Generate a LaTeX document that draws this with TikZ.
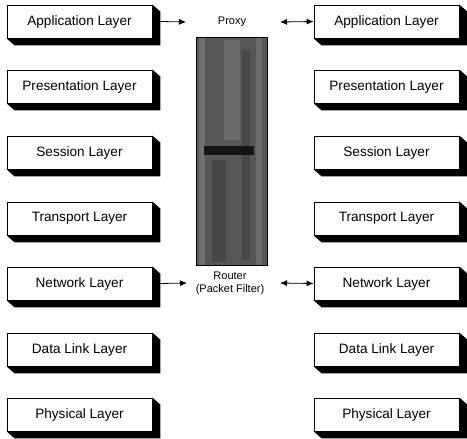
\documentclass[tikz,border=0pt]{standalone}
\usepackage{fontspec}
\setmainfont{Liberation Sans}
\usetikzlibrary{arrows.meta,calc}
\begin{document}
\begin{tikzpicture}[x=1pt,y=-1pt,
  layer/.style={draw=black,line width=0.8pt,fill=white,minimum width=145pt,minimum height=33pt,inner sep=0pt,font=\fontsize{13.6}{15}\selectfont},
  lbl/.style={inner sep=0pt,font=\fontsize{11}{13}\selectfont,align=center},
  conn/.style={line width=0.8pt,-{Latex[length=7pt,width=6pt]}},
  dconn/.style={line width=0.8pt,{Latex[length=7pt,width=6pt]}-{Latex[length=7pt,width=6pt]}}]
\useasboundingbox (0,0) rectangle (467,439);
\newcommand\slab[1]{\fill[black] (#1.north east) -- ++(8,7) -- ($(#1.south east)+(8,7)$) -- ($(#1.south west)+(8,7)$) -- (#1.south west) -- (#1.south east) -- cycle;}
% left stack
\node[layer] (LA) at (79.5,21.5) {Application Layer};
\node[layer] (LP) at (79.5,86.5) {Presentation Layer};
\node[layer] (LS) at (79.5,152.5) {Session Layer};
\node[layer] (LT) at (79.5,218.5) {Transport Layer};
\node[layer] (LN) at (79.5,283.5) {Network Layer};
\node[layer] (LD) at (79.5,349.5) {Data Link Layer};
\node[layer] (LY) at (79.5,414.5) {Physical Layer};
% right stack
\node[layer] (RA) at (386.5,21.5) {Application Layer};
\node[layer] (RP) at (386.5,86.5) {Presentation Layer};
\node[layer] (RS) at (386.5,152.5) {Session Layer};
\node[layer] (RT) at (386.5,218.5) {Transport Layer};
\node[layer] (RN) at (386.5,283.5) {Network Layer};
\node[layer] (RD) at (386.5,349.5) {Data Link Layer};
\node[layer] (RY) at (386.5,414.5) {Physical Layer};
\foreach \n in {LA,LP,LS,LT,LN,LD,LY,RA,RP,RS,RT,RN,RD,RY}{\slab{\n}}
% column
\fill[black!66] (196,37) rectangle (267,265);
\fill[black!56] (199,37) rectangle (205,265);
\fill[black!58] (224,40) rectangle (240,140);
\fill[black!58] (256,37) rectangle (262,265);
\fill[black!72] (212,160) rectangle (226,262);
\fill[black!72] (242,50) rectangle (250,260);
\fill[black!92] (204,146) rectangle (254,155);
\draw[line width=0.8pt] (196,37) rectangle (267,265);
% labels
\node[lbl] (proxy) at (232,22) {Proxy};
\node[lbl] (router) at (230,283) {Router\\(Packet Filter)};
\coordinate (pl) at (186,22);
\coordinate (pr) at (280,22);
\coordinate (rl) at (187,283);
\coordinate (rr) at (280,283);
% connectors
\draw[conn] ($(LA.east)+(8,0)$) -- (pl);
\draw[dconn] (pr) -- (RA.west);
\draw[conn] ($(LN.east)+(8,0)$) -- (rl);
\draw[dconn] (rr) -- (RN.west);
\end{tikzpicture}
\end{document}
